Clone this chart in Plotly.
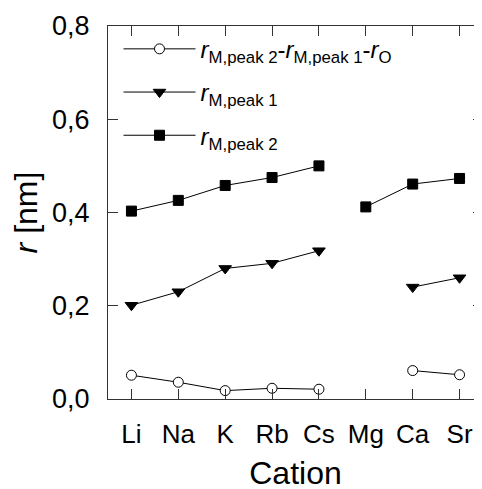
import plotly.graph_objects as go

cations = ["Li", "Na", "K", "Rb", "Cs", "Mg", "Ca", "Sr"]
alkali = ["Li", "Na", "K", "Rb", "Cs"]
earth = ["Mg", "Ca", "Sr"]

# r_M,peak2 - r_M,peak1 - r_O
diff_alkali = [0.051, 0.036, 0.018, 0.023, 0.021]
diff_earth = [None, 0.061, 0.052]
# r_M,peak1
peak1_alkali = [0.201, 0.230, 0.280, 0.291, 0.318]
peak1_earth = [None, 0.240, 0.260]
# r_M,peak2
peak2_alkali = [0.403, 0.426, 0.458, 0.475, 0.500]
peak2_earth = [0.412, 0.461, 0.473]

y_ticks = [0.0, 0.2, 0.4, 0.6, 0.8]

series = [
    ("<i>r</i><sub>M,peak 2</sub>-<i>r</i><sub>M,peak 1</sub>-<i>r</i><sub>O</sub>",
     diff_alkali, diff_earth, "circle", "white", 10),
    ("<i>r</i><sub>M,peak 1</sub>", peak1_alkali, peak1_earth, "triangle-down", "black", 11),
    ("<i>r</i><sub>M,peak 2</sub>", peak2_alkali, peak2_earth, "square", "black", 10),
]

fig = go.Figure()
for i, (name, ya, ye, sym, fill, size) in enumerate(series):
    for j, (xs, ys) in enumerate([(alkali, ya), (earth, ye)]):
        fig.add_trace(go.Scatter(
            x=xs, y=ys, mode="lines+markers", name=name,
            legendgroup=f"g{i}", showlegend=(j == 0),
            line=dict(color="black", width=1),
            marker=dict(symbol=sym, size=size, color=fill,
                        line=dict(color="black", width=1)),
            connectgaps=False, cliponaxis=False,
        ))

fig.update_layout(
    width=482, height=489,
    margin=dict(l=100, r=7, t=18, b=98, autoexpand=False),
    paper_bgcolor="white", plot_bgcolor="white",
    separators=",.",
    font=dict(family="Liberation Sans, Arial, sans-serif", size=27, color="black"),
    showlegend=True,
    legend=dict(x=0.028, y=0.998, xanchor="left", yanchor="top",
                bgcolor="rgba(0,0,0,0)", font=dict(size=24),
                tracegroupgap=9, itemwidth=72, traceorder="grouped"),
    xaxis=dict(
        type="category", categoryorder="array", categoryarray=cations,
        range=[-0.5, 7.5], automargin=False,
        showline=True, linecolor="#333", linewidth=1, mirror="ticks",
        ticks="inside", ticklen=10, tickcolor="#333",
        showgrid=False, zeroline=False,
        ticklabelstandoff=12,
        title=dict(text="Cation", standoff=13),
        tickfont=dict(size=26),
    ),
    yaxis=dict(
        range=[0, 0.8], tickvals=y_ticks, tickformat=".1f", automargin=False,
        showline=True, linecolor="#333", linewidth=1, mirror="ticks",
        ticks="inside", ticklen=10, tickcolor="#333",
        showgrid=False, zeroline=False,
        ticklabelstandoff=12,
        title=dict(text="<i>r</i> [nm]", standoff=18),
        tickfont=dict(size=27),
    ),
)

fig.write_html("out.html")
